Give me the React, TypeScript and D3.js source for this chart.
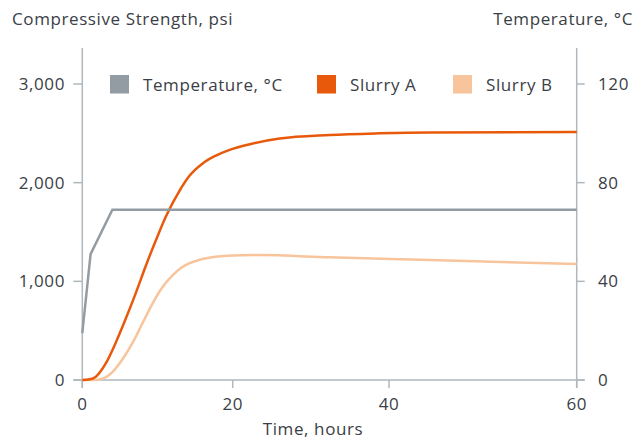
import { scaleLinear, line as d3line, curveMonotoneX, curveLinear } from "d3";

type Pt = { h: number; v: number };

// temperature, °C (right axis)
const tempHours = [0, 1.1, 4, 60];
const tempValues = [19, 51, 69, 69];

// compressive strength, psi (left axis)
const slurryAHours = [0, 1, 1.8, 3.1, 4.4, 5.8, 7.1, 8.4, 9.8, 11.1, 12.9, 14.2, 16, 17.7, 19.5, 22.2, 26, 32.4, 38.8, 44.4, 60];
const slurryAValues = [0, 8, 34, 165, 370, 625, 878, 1148, 1419, 1655, 1915, 2065, 2195, 2272, 2330, 2390, 2447, 2483, 2500, 2509, 2513];

const slurryBHours = [0, 1.5, 2.7, 4, 5.3, 6.7, 8, 9.3, 10.6, 12, 13.3, 15.5, 17.7, 21.2, 23.5, 32.4, 44.4, 60];
const slurryBValues = [0, 0, 14, 80, 205, 378, 575, 770, 935, 1060, 1145, 1216, 1248, 1264, 1266, 1243, 1216, 1175];

const xTicks = [0, 20, 40, 60];
const leftTicks = [0, 1000, 2000, 3000];
const rightTicks = [0, 40, 80, 120];

const legendItems = [
  { label: "Temperature, °C", color: "#949ca3", x: 110 },
  { label: "Slurry A", color: "#e8590c", x: 317 },
  { label: "Slurry B", color: "#f8c49c", x: 453 },
];

const toPts = (hs: number[], vs: number[]): Pt[] => hs.map((h, i) => ({ h, v: vs[i] }));

export default function App() {
  const W = 644;
  const H = 439;
  const left = 82.3;
  const right = 576.7;
  const top = 48;
  const bottom = 380;

  // the time axis in the original is not evenly spaced, so map tick by tick
  const x = scaleLinear().domain([0, 20, 40, 60]).range([left, 232.7, 389, right]);
  const yL = scaleLinear().domain([0, 3000]).range([bottom, 84]);
  const yR = scaleLinear().domain([0, 120]).range([bottom, 84]);

  const strength = d3line<Pt>()
    .x((d) => x(d.h))
    .y((d) => yL(d.v))
    .curve(curveMonotoneX);
  const temp = d3line<Pt>()
    .x((d) => x(d.h))
    .y((d) => yR(d.v))
    .curve(curveLinear);

  const axisColor = "#b0b7bd";
  const textColor = "#3a4046";
  const fs = 17;
  const ls = 0.6;

  return (
    <svg
      width={W}
      height={H}
      style={{ position: "absolute", left: 0, top: 0 }}
      fontFamily="'Open Sans', sans-serif"
      letterSpacing={ls}
    >
      <rect width={W} height={H} fill="#fff" />

      {/* titles */}
      <text x={12} y={25} fontSize={fs} fill={textColor}>Compressive Strength, psi</text>
      <text x={633} y={25} fontSize={fs} fill={textColor} textAnchor="end">Temperature, °C</text>
      <text x={313} y={435} fontSize={fs} fill={textColor} textAnchor="middle">Time, hours</text>

      {/* axes */}
      <line x1={left} x2={left} y1={top} y2={bottom + 8} stroke={axisColor} strokeWidth={1.5} />
      <line x1={right} x2={right} y1={top} y2={bottom + 8} stroke={axisColor} strokeWidth={1.5} />
      <line x1={left - 9} x2={right + 8} y1={bottom} y2={bottom} stroke={axisColor} strokeWidth={1.5} />

      {leftTicks.map((t) => (
        <g key={"l" + t}>
          <line x1={left - 9} x2={left} y1={yL(t)} y2={yL(t)} stroke={axisColor} strokeWidth={1.5} />
          <text x={65} y={yL(t) + 6} fontSize={fs} fill={textColor} textAnchor="end">
            {t.toLocaleString("en-US")}
          </text>
        </g>
      ))}
      {rightTicks.map((t) => (
        <g key={"r" + t}>
          <line x1={right} x2={right + 8} y1={yR(t)} y2={yR(t)} stroke={axisColor} strokeWidth={1.5} />
          <text x={598} y={yR(t) + 6} fontSize={fs} fill={textColor}>{t}</text>
        </g>
      ))}
      {xTicks.map((t) => (
        <g key={"x" + t}>
          <line x1={x(t)} x2={x(t)} y1={bottom} y2={bottom + 8} stroke={axisColor} strokeWidth={1.5} />
          <text x={x(t)} y={410} fontSize={fs} fill={textColor} textAnchor="middle">{t}</text>
        </g>
      ))}

      {/* series */}
      <path d={strength(toPts(slurryBHours, slurryBValues)) ?? ""} fill="none" stroke="#f8c49c" strokeWidth={2.5} />
      <path d={strength(toPts(slurryAHours, slurryAValues)) ?? ""} fill="none" stroke="#e8590c" strokeWidth={2.5} />
      <path d={temp(toPts(tempHours, tempValues)) ?? ""} fill="none" stroke="#949ca3" strokeWidth={2.5} />

      {/* legend */}
      {legendItems.map((it) => (
        <g key={it.label}>
          <rect x={it.x} y={75} width={19} height={18.5} fill={it.color} />
          <text x={it.x + 33} y={91} fontSize={fs} fill={textColor}>{it.label}</text>
        </g>
      ))}
    </svg>
  );
}
